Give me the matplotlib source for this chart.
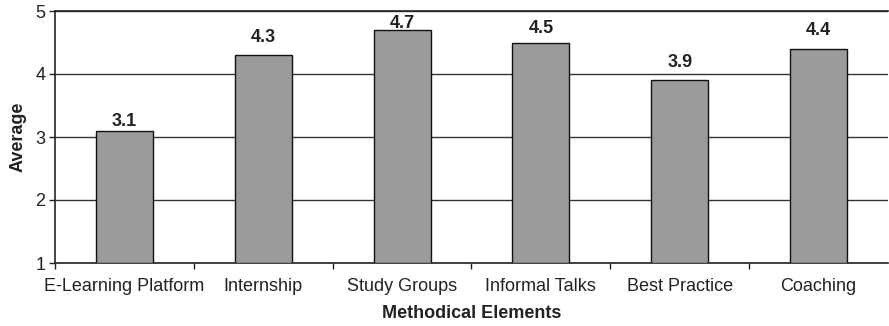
import matplotlib
matplotlib.use("Agg")
import matplotlib.pyplot as plt

plt.rcParams['font.family'] = ['Liberation Sans', 'DejaVu Sans']

categories = ["E-Learning Platform", "Internship", "Study Groups",
              "Informal Talks", "Best Practice", "Coaching"]
averages = [3.1, 4.3, 4.7, 4.5, 3.9, 4.4]
y_ticks = [1, 2, 3, 4, 5]

# gap (points) between each bar top and its value label
label_gaps = [3.6, 9.4, 1.4, 6.5, 9.4, 10.0]

ink = "#222222"

fig = plt.figure(figsize=(8.89, 3.26), dpi=100)
ax = fig.add_axes([55 / 889, 1 - 263 / 326, 833 / 889, 252 / 326])

x = list(range(len(categories)))
ax.bar(x, [v - 1 for v in averages], bottom=1, width=0.41,
       color="#9b9b9b", edgecolor="#111111", linewidth=1.0, zorder=3)

for xi, v, gap in zip(x, averages, label_gaps):
    ax.annotate(f"{v:.1f}", xy=(xi, v), xytext=(0, gap),
                textcoords="offset points", ha="center", va="baseline",
                fontsize=13, fontweight="bold", color=ink)

ax.set_xlim(-0.5, len(categories) - 0.5)
ax.set_ylim(1, 5)
ax.set_yticks(y_ticks)
ax.set_yticklabels([str(t) for t in y_ticks], fontsize=13, color=ink)
ax.yaxis.grid(True, color="#333333", linewidth=1.0, zorder=0)
ax.set_axisbelow(True)

# category labels sit between boundary ticks
ax.set_xticks(x)
ax.set_xticklabels(categories, fontsize=13, color=ink)
ax.tick_params(axis="x", which="major", length=0, pad=11)
ax.set_xticks([i + 0.5 for i in x[:-1]] + [-0.5], minor=True)
ax.tick_params(axis="x", which="minor", length=4, width=1, color=ink)
ax.tick_params(axis="y", length=4, width=1, color=ink, pad=3)

for side in ["left", "bottom", "top"]:
    ax.spines[side].set_color(ink)
    ax.spines[side].set_linewidth(1.2)
ax.spines["right"].set_visible(False)

ax.set_ylabel("Average", fontsize=13, fontweight="bold", color=ink, labelpad=6)
ax.set_xlabel("Methodical Elements", fontsize=13, fontweight="bold", color=ink, labelpad=7)

fig.savefig("out.png", dpi=100)
